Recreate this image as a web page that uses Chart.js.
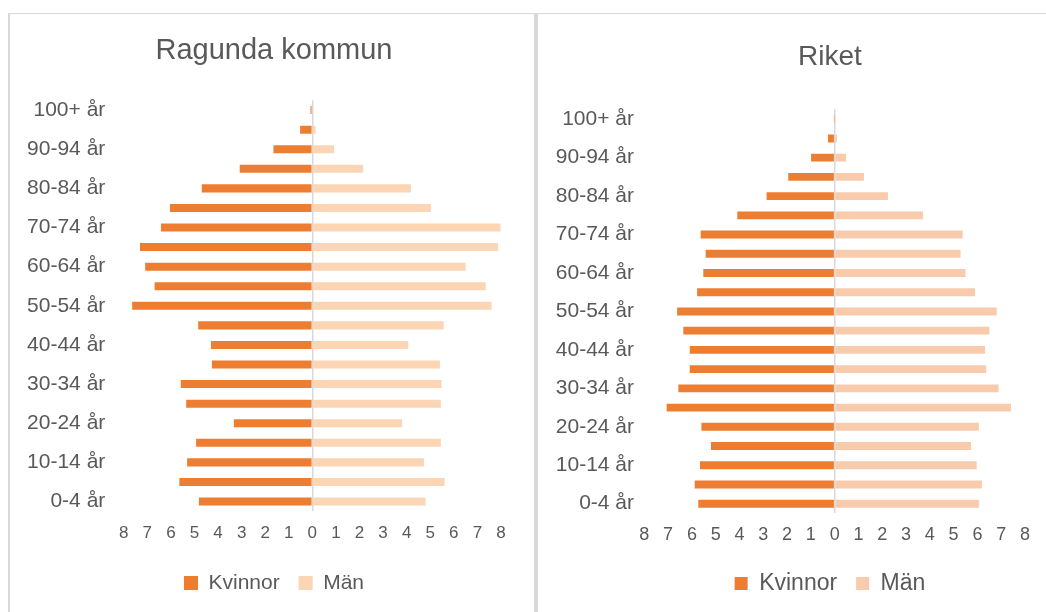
<!DOCTYPE html>
<html>
<head>
<meta charset="utf-8">
<title>Befolkningspyramid</title>
<script src="https://cdn.jsdelivr.net/npm/chart.js@4.4.1/dist/chart.umd.min.js"></script>
<style>
  body { margin: 0; background: #fff; overflow: hidden; width: 1046px; height: 612px; }
  .panel { position: absolute; top: 13px; height: 700px; border-top: 1px solid #d9d9d9; }
  #left-panel { left: 8px; width: 524px; border-left: 2px solid #d9d9d9; border-right: 2px solid #d9d9d9; }
  #right-panel { left: 536px; width: 600px; border-left: 2px solid #d9d9d9; }
  canvas { position: absolute; top: 14px; }
  #ragunda { left: 10px; }
  #riket { left: 538px; }
</style>
</head>
<body>
<div class="panel" id="left-panel"></div>
<div class="panel" id="right-panel"></div>
<canvas id="ragunda" width="528" height="598"></canvas>
<canvas id="riket" width="584" height="598"></canvas>
<script>
'use strict';
// age groups, bottom to top
let ages = ['0-4 år','5-9 år','10-14 år','15-19 år','20-24 år','25-29 år','30-34 år','35-39 år','40-44 år','45-49 år',
  '50-54 år','55-59 år','60-64 år','65-69 år','70-74 år','75-79 år','80-84 år','85-89 år','90-94 år','95-99 år','100+ år'];
let xTicks = [8,7,6,5,4,3,2,1,0,1,2,3,4,5,6,7,8];

// percent of population
let ragundaKvinnor = [4.81,5.64,5.31,4.93,3.33,5.35,5.58,4.26,4.30,4.84,7.64,6.69,7.09,7.31,6.42,6.04,4.69,3.08,1.65,0.52,0.08];
let ragundaMan = [4.80,5.61,4.73,5.45,3.81,5.45,5.48,5.41,4.07,5.57,7.60,7.35,6.50,7.88,7.98,5.03,4.18,2.15,0.92,0.14,0];
let riketKvinnor = [5.73,5.88,5.66,5.20,5.60,7.06,6.57,6.09,6.09,6.36,6.62,5.78,5.52,5.42,5.63,4.09,2.86,1.95,0.99,0.28,0.02];
let riketMan = [6.06,6.19,5.97,5.73,6.06,7.41,6.89,6.37,6.32,6.50,6.81,5.90,5.50,5.29,5.38,3.71,2.24,1.23,0.48,0.10,0.01];

let textColor = '#595959';
let fontFamily = "'Liberation Sans', Arial, sans-serif";

function pyramid(canvasId, s) {
  const data = {
    labels: ages,
    datasets: [{
      label: 'Kvinnor',
      data: s.kvinnor.map(v => -v),
      backgroundColor: '#ED7D31',
      barPercentage: 0.41,
      categoryPercentage: 1
    },
    {
      label: 'Män',
      data: s.man,
      backgroundColor: s.manColor,
      barPercentage: 0.41,
      categoryPercentage: 1
    }]
  };

  const config = {
    type: 'bar',
    data: data,
    options: {
      indexAxis: 'y',
      responsive: false,
      animation: false,
      devicePixelRatio: 1,
      layout: { padding: { left: 0, right: 0, top: 0, bottom: s.bottom } },
      plugins: {
        title: {
          display: true,
          text: s.title,
          color: textColor,
          font: { family: fontFamily, size: s.titleSize, weight: 'normal' },
          padding: { top: s.titleTop, bottom: s.titleBottom }
        },
        legend: {
          position: 'bottom',
          labels: {
            color: textColor,
            boxWidth: s.box,
            boxHeight: s.box,
            padding: 19,
            font: { family: fontFamily, size: s.legendSize }
          }
        },
        tooltip: { enabled: false }
      },
      scales: {
        x: {
          stacked: true,
          min: -8,
          max: 8,
          afterFit: axis => { axis.height = s.xHeight; },
          ticks: {
            stepSize: 1,
            autoSkip: false,
            maxRotation: 0,
            padding: s.xPad,
            color: textColor,
            font: { family: fontFamily, size: s.tickSize },
            callback: (v, i) => xTicks[i]
          },
          grid: {
            drawTicks: false,
            color: ctx => (ctx.tick && ctx.tick.value === 0) ? '#d9d9d9' : 'rgba(0,0,0,0)',
            lineWidth: 1.5
          },
          border: { display: false }
        },
        y: {
          stacked: true,
          reverse: true,
          afterFit: axis => { axis.width = s.side + s.yWidth; },
          ticks: {
            autoSkip: false,
            padding: s.yPad,
            color: textColor,
            font: { family: fontFamily, size: 21 },
            callback: (v, i) => (i % 2 === 0 ? ages[i] : '')
          },
          grid: { display: false, drawTicks: false },
          border: { display: false }
        },
        // empty axis on the right, only to keep the plot where it is
        y2: {
          type: 'category',
          position: 'right',
          afterFit: axis => { axis.width = s.side; },
          ticks: { display: false },
          grid: { display: false, drawTicks: false },
          border: { display: false }
        }
      }
    }
  };

  return new Chart(document.getElementById(canvasId), config);
}

pyramid('ragunda', {
  title: 'Ragunda kommun',
  kvinnor: ragundaKvinnor,
  man: ragundaMan,
  manColor: '#FCD5B4',
  side: 37,
  bottom: 8.5,
  titleSize: 29,
  titleTop: 20,
  titleBottom: 31.5,
  legendSize: 21,
  box: 14,
  tickSize: 17,
  xHeight: 42.2,
  xPad: 12,
  yWidth: 76.7,
  yPad: 18.4
});

pyramid('riket', {
  title: 'Riket',
  kvinnor: riketKvinnor,
  man: riketMan,
  manColor: '#F8CBAD',
  side: 97,
  bottom: 7,
  titleSize: 28,
  titleTop: 26.7,
  titleBottom: 35.3,
  legendSize: 23,
  box: 13,
  tickSize: 18,
  xHeight: 39.7,
  xPad: 11.2,
  yWidth: 9.3,
  yPad: 10.3
});
</script>
</body>
</html>
